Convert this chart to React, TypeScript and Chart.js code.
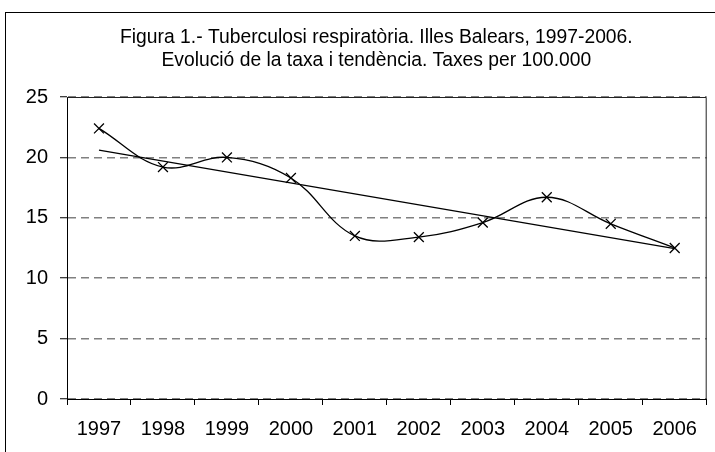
import React, { useEffect, useRef } from "react";
import { Chart, registerables } from "chart.js";

Chart.register(...registerables);

const categories = ["1997", "1998", "1999", "2000", "2001", "2002", "2003", "2004", "2005", "2006"];
const rateValues = [22.4, 19.2, 20.0, 18.3, 13.5, 13.4, 14.6, 16.7, 14.5, 12.5];
const trendValues: (number | null)[] = [20.6, null, null, null, null, null, null, null, null, 12.45];
const yTickValues = [0, 5, 10, 15, 20, 25];
const titleLines = [
  "Figura 1.- Tuberculosi respiratòria. Illes Balears, 1997-2006.",
  "Evolució de la taxa i tendència. Taxes per 100.000",
];

const FONT = "'Liberation Sans', Arial, Helvetica, sans-serif";

const plotBorder = {
  id: "plotBorder",
  afterDraw(chart: any) {
    const { ctx, chartArea } = chart;
    ctx.save();
    ctx.strokeStyle = "#222";
    ctx.lineWidth = 1;
    ctx.beginPath();
    ctx.moveTo(chartArea.left, chartArea.top + 0.5);
    ctx.lineTo(chartArea.right - 0.5, chartArea.top + 0.5);
    ctx.lineTo(chartArea.right - 0.5, chartArea.bottom);
    ctx.stroke();
    ctx.restore();
  },
};

const titleDrawer = {
  id: "titleDrawer",
  afterDraw(chart: any) {
    const { ctx, chartArea } = chart;
    const cx = (42 + chartArea.right) / 2;
    ctx.save();
    ctx.fillStyle = "#000";
    ctx.font = `19.3px ${FONT}`;
    ctx.textAlign = "center";
    ctx.textBaseline = "middle";
    titleLines.forEach((line, i) => {
      ctx.fillText(line, cx + 2, 38 + i * 23);
    });
    ctx.restore();
  },
};

export default function App() {
  const ref = useRef<HTMLCanvasElement | null>(null);

  useEffect(() => {
    if (!ref.current) return;
    const chart = new Chart(ref.current, {
      type: "line",
      data: {
        labels: categories,
        datasets: [
          {
            label: "Taxa",
            data: rateValues,
            borderColor: "#000",
            borderWidth: 1.3,
            tension: 0.38,
            fill: false,
            pointStyle: "crossRot",
            pointRadius: 7,
            pointBorderColor: "#000",
            pointBorderWidth: 1.3,
            pointBackgroundColor: "#000",
          },
          {
            label: "Tendència",
            data: trendValues,
            borderColor: "#000",
            borderWidth: 1.3,
            tension: 0,
            spanGaps: true,
            fill: false,
            pointRadius: 0,
          },
        ],
      },
      options: {
        responsive: false,
        animation: false,
        layout: { padding: { left: 0, right: 3, top: 97, bottom: 0 } },
        plugins: {
          legend: { display: false },
          tooltip: { enabled: false },
          title: { display: false },
        },
        scales: {
          x: {
            type: "category",
            offset: true,
            grid: {
              offset: true,
              drawOnChartArea: false,
              drawTicks: true,
              tickLength: 6,
              tickColor: "#000",
            },
            border: { color: "#000", width: 1 },
            ticks: {
              color: "#000",
              font: { family: FONT, size: 20 },
              padding: 12,
              maxRotation: 0,
              autoSkip: false,
            },
            afterFit: (s: any) => {
              s.height = 53;
            },
          },
          y: {
            min: 0,
            max: 25,
            afterBuildTicks: (s: any) => {
              s.ticks = yTickValues.map((v) => ({ value: v }));
            },
            grid: {
              color: "#808080",
              lineWidth: 1.5,
              drawTicks: true,
              tickLength: 7,
              tickColor: "#000",
              tickWidth: 1,
            },
            border: { color: "#000", width: 1, dash: [8, 5] },
            ticks: {
              color: "#000",
              font: { family: FONT, size: 20 },
              padding: 12,
            },
            afterFit: (s: any) => {
              s.width = 67;
            },
          },
        },
      },
      plugins: [plotBorder, titleDrawer],
    });
    return () => chart.destroy();
  }, []);

  return (
    <div
      style={{
        position: "fixed",
        left: 0,
        top: 0,
        width: 715,
        height: 452,
        overflow: "hidden",
        background: "#fff",
      }}
    >
      <canvas ref={ref} width={715} height={452} style={{ position: "absolute", left: 0, top: 0 }} />
      <div
        style={{
          position: "absolute",
          left: 5,
          top: 12,
          width: 1000,
          height: 1000,
          border: "1px solid #000",
          pointerEvents: "none",
        }}
      />
    </div>
  );
}
